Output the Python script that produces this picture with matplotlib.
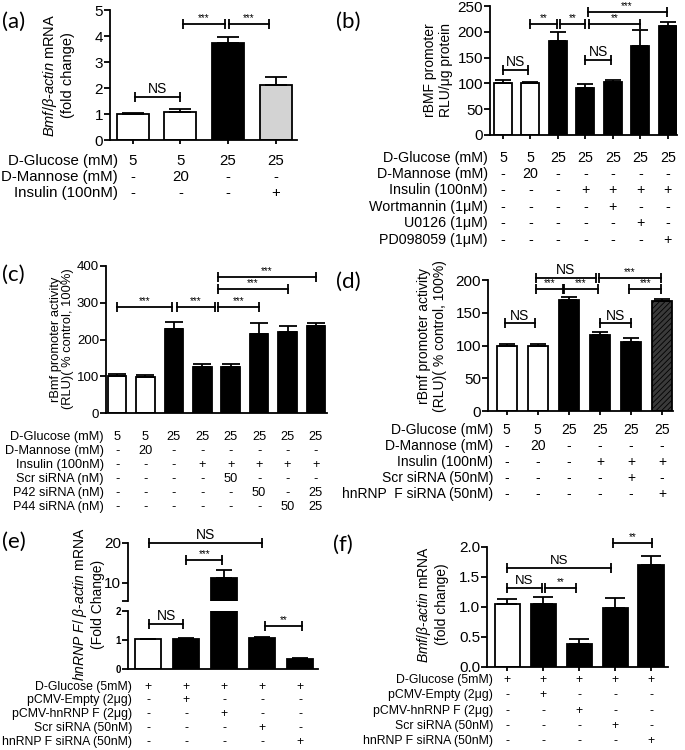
import numpy as np
import matplotlib
matplotlib.use("Agg")
import matplotlib.pyplot as plt
from matplotlib.transforms import blended_transform_factory

plt.rcParams['font.family'] = ['Liberation Sans', 'DejaVu Sans']
plt.rcParams['mathtext.fontset'] = 'custom'
plt.rcParams['mathtext.rm'] = 'Liberation Sans'
plt.rcParams['mathtext.it'] = 'Liberation Sans:italic'
plt.rcParams['hatch.linewidth'] = 0.6

# ---------------- data ----------------
# (a)
a_vals = [1.0, 1.07, 3.75, 2.1]
a_errs = [0.03, 0.12, 0.22, 0.33]
a_colors = ['white', 'white', 'black', '#d3d3d3']
a_rows = ['D-Glucose (mM)', 'D-Mannose (mM)', 'Insulin (100nM)']
a_table = [['5', '5', '25', '25'], ['-', '20', '-', '-'], ['-', '-', '-', '+']]

# (b)
b_vals = [100, 101, 182, 91, 102, 173, 211]
b_errs = [7, 1, 17, 8, 5, 30, 8]
b_colors = ['white', 'white'] + ['black'] * 5
b_rows = ['D-Glucose (mM)', 'D-Mannose (mM)', 'Insulin (100nM)',
          'Wortmannin (1\u03bcM)', 'U0126 (1\u03bcM)', 'PD098059 (1\u03bcM)']
b_table = [['5', '5', '25', '25', '25', '25', '25'],
           ['-', '20', '-', '-', '-', '-', '-'],
           ['-', '-', '-', '+', '+', '+', '+'],
           ['-', '-', '-', '-', '+', '-', '-'],
           ['-', '-', '-', '-', '-', '+', '-'],
           ['-', '-', '-', '-', '-', '-', '+']]

# (c)
c_vals = [100, 99, 228, 126, 126, 215, 221, 237]
c_errs = [6, 5, 20, 8, 8, 30, 17, 7]
c_colors = ['white', 'white'] + ['black'] * 6
c_rows = ['D-Glucose (mM)', 'D-Mannose (mM)', 'Insulin (100nM)',
          'Scr siRNA (nM)', 'P42 siRNA (nM)', 'P44 siRNA (nM)']
c_table = [['5', '5', '25', '25', '25', '25', '25', '25'],
           ['-', '20', '-', '-', '-', '-', '-', '-'],
           ['-', '-', '-', '+', '+', '+', '+', '+'],
           ['-', '-', '-', '-', '50', '-', '-', '-'],
           ['-', '-', '-', '-', '-', '50', '-', '25'],
           ['-', '-', '-', '-', '-', '-', '50', '25']]

# (d)
d_vals = [100, 100, 170, 116, 105, 168]
d_errs = [2, 2, 4, 4, 6, 3]
d_colors = ['white', 'white', 'black', 'black', 'black', '#3a3a3a']
d_rows = ['D-Glucose (mM)', 'D-Mannose (mM)', 'Insulin (100nM)',
          'Scr siRNA (50nM)', 'hnRNP  F siRNA (50nM)']
d_table = [['5', '5', '25', '25', '25', '25'],
           ['-', '20', '-', '-', '-', '-'],
           ['-', '-', '-', '+', '+', '+'],
           ['-', '-', '-', '-', '+', '-'],
           ['-', '-', '-', '-', '-', '+']]

# (e)
e_vals = [1.02, 1.03, 11.2, 1.06, 0.35]
e_errs = [0.03, 0.03, 2.0, 0.03, 0.02]
e_colors = ['white', 'black', 'black', 'black', 'black']
ef_rows = ['D-Glucose (5mM)', 'pCMV-Empty (2\u03bcg)', 'pCMV-hnRNP F (2\u03bcg)',
           'Scr siRNA (50nM)', 'hnRNP F siRNA (50nM)']
ef_table = [['+', '+', '+', '+', '+'],
            ['-', '+', '-', '-', '-'],
            ['-', '-', '+', '-', '-'],
            ['-', '-', '-', '+', '-'],
            ['-', '-', '-', '-', '+']]

# (f)
f_vals = [1.05, 1.05, 0.39, 0.98, 1.70]
f_errs = [0.09, 0.11, 0.07, 0.17, 0.15]
f_colors = ['white', 'black', 'black', 'black', 'black']

# ---------------- helpers ----------------
W, H = 685, 750
fig = plt.figure(figsize=(W / 100, H / 100), dpi=100)
LW = 1.3


def add_ax(x0, ytop, x1, ybot):
    return fig.add_axes([x0 / W, 1 - ybot / H, (x1 - x0) / W, (ybot - ytop) / H])


def style(ax, ytick_fs=11, xticks=True):
    for s in ['top', 'right']:
        ax.spines[s].set_visible(False)
    for s in ['left', 'bottom']:
        ax.spines[s].set_linewidth(LW)
    ax.tick_params(axis='y', direction='out', length=4, width=LW, labelsize=ytick_fs, pad=1)
    ax.tick_params(axis='x', direction='out', length=3 if xticks else 0, width=LW, labelbottom=False)


def bars(ax, vals, errs, colors, width, capsize, hatch_last=False):
    x = np.arange(len(vals))
    bs = ax.bar(x, vals, width=width, color=colors, edgecolor='black', linewidth=LW, zorder=2)
    if hatch_last:
        bs[-1].set_hatch('//////')
    ax.errorbar(x, vals, yerr=[np.zeros(len(vals)), errs], fmt='none', ecolor='black',
                elinewidth=LW, capsize=capsize, capthick=LW, zorder=3)
    ax.set_xticks(x)


def bracket(ax, x1, x2, y, text, fs=7):
    ax.plot([x1, x2], [y, y], color='black', lw=LW, marker='|', markersize=7,
            mew=LW, clip_on=False, zorder=4)
    ax.annotate(text, ((x1 + x2) / 2, y), xytext=(0, 0.5), textcoords='offset points',
                ha='center', va='bottom', fontsize=fs, annotation_clip=False)


def table(ax, rows, table_vals, ys, label_right, fs):
    tr = blended_transform_factory(ax.transData, fig.transFigure)
    for r, yp in zip(range(len(rows)), ys):
        fig.text(label_right / W, 1 - yp / H, rows[r], ha='right', va='center', fontsize=fs)
        for i, v in enumerate(table_vals[r]):
            ax.text(i, 1 - yp / H, v, transform=tr, ha='center', va='center', fontsize=fs)


def ylab(xp, yp, text, fs):
    fig.text(xp / W, 1 - yp / H, text, rotation=90, ha='center', va='center',
             fontsize=fs, multialignment='center', linespacing=1.1)


def letter(xp, yp, text):
    fig.text(xp / W, 1 - yp / H, text, ha='left', va='center', fontsize=16, family='Lato')


# ---------------- (a) ----------------
ax = add_ax(110, 10, 297, 140)
bars(ax, a_vals, a_errs, a_colors, 0.67, 8)
ax.set_ylim(0, 5)
ax.set_yticks([0, 1, 2, 3, 4, 5])
ax.set_xlim(-0.48, 3.45)
style(ax, 11)
bracket(ax, 0.05, 1.0, 1.65, 'NS', 10)
bracket(ax, 1.06, 1.93, 4.46, '***')
bracket(ax, 2.02, 2.86, 4.46, '***')
table(ax, a_rows, a_table, [161, 177, 193], 118, 10.8)
ylab(58, 75, '$\\mathit{Bmf/\\beta}$-$\\mathit{actin}$ mRNA\n(fold change)', 10.5)
letter(2, 22, '(a)')

# ---------------- (b) ----------------
ax = add_ax(490, 6, 677, 135)
bars(ax, b_vals, b_errs, b_colors, 0.65, 6)
ax.set_ylim(0, 250)
ax.set_yticks([0, 50, 100, 150, 200, 250])
ax.set_xlim(-0.47, 6.33)
style(ax, 11)
bracket(ax, 0.0, 0.91, 126, 'NS', 10)
bracket(ax, 0.98, 1.96, 215, '**')
bracket(ax, 2.07, 3.0, 215, '**')
bracket(ax, 3.12, 4.98, 215, '**')
bracket(ax, 3.08, 5.95, 238, '***')
bracket(ax, 3.0, 3.93, 145, 'NS', 10)
table(ax, b_rows, b_table, [158, 174, 190, 207, 223, 240], 488, 10.3)
ylab(438, 70, 'rBMF promoter\nRLU/\u03bcg protein', 10)
letter(336, 22, '(b)')

# ---------------- (c) ----------------
ax = add_ax(106, 266, 327, 413)
bars(ax, c_vals, c_errs, c_colors, 0.66, 6.5)
ax.set_ylim(0, 400)
ax.set_yticks([0, 100, 200, 300, 400])
ax.set_xlim(-0.39, 7.39)
style(ax, 9.5, xticks=False)
bracket(ax, 0.0, 1.95, 288, '***')
bracket(ax, 2.1, 3.45, 288, '***')
bracket(ax, 3.55, 5.0, 288, '***')
bracket(ax, 3.55, 6.0, 337, '***')
bracket(ax, 3.55, 7.0, 370, '***')
table(ax, c_rows, c_table, [437, 451, 465, 479, 493, 507], 104, 9.2)
ylab(62, 339, 'rBmf promoter activity\n(RLU)( % control, 100%)', 9.3)
letter(2, 275, '(c)')

# ---------------- (d) ----------------
ax = add_ax(488, 280, 673, 411)
bars(ax, d_vals, d_errs, d_colors, 0.645, 5.5, hatch_last=True)
ax.set_ylim(0, 200)
ax.set_yticks([0, 50, 100, 150, 200])
ax.set_xlim(-0.6, 5.35)
style(ax, 11)
bracket(ax, -0.05, 0.9, 134, 'NS', 10)
bracket(ax, 3.0, 4.0, 134, 'NS', 10)
bracket(ax, 0.94, 1.8, 186, '***')
bracket(ax, 1.85, 2.94, 186, '***')
bracket(ax, 3.94, 4.97, 186, '***')
bracket(ax, 0.94, 2.87, 203, 'NS', 10)
bracket(ax, 2.97, 4.97, 203, '***')
table(ax, d_rows, d_table, [430, 446, 462, 478, 494], 493, 10)
ylab(432, 336, 'rBmf promoter activity\n(RLU)( % control, 100%)', 10)
letter(336, 282, '(d)')

# ---------------- (e) ----------------
axu = add_ax(128, 543, 318, 601)
axl = add_ax(128, 611, 318, 669)
for a in (axu, axl):
    bars(a, e_vals, e_errs, e_colors, 0.68, 5.5)
    a.set_xlim(-0.53, 4.47)
axu.set_ylim(5.5, 20)
axu.set_yticks([5.5, 10, 20])
axu.set_yticklabels(['', '10', '20'])
axl.set_ylim(0, 2)
axl.set_yticks([0, 1, 2])
style(axu, 11, xticks=False)
axu.spines['bottom'].set_visible(False)
style(axl, 7, xticks=False)
for t in axl.get_yticklabels():
    t.set_fontweight('bold')
bracket(axl, 0.03, 0.92, 1.55, 'NS', 10)
bracket(axl, 3.08, 4.05, 1.48, '**')
bracket(axu, 1.0, 1.95, 15.75, '***')
bracket(axu, 0.03, 3.0, 20, 'NS', 10)
table(axl, ef_rows, ef_table, [687, 700, 714, 728, 742], 132, 8.8)
ylab(88, 604, '$\\mathit{hnRNP\\ F/\\ \\beta}$-$\\mathit{actin}$ mRNA\n(Fold Change)', 10)
letter(2, 542, '(e)')

# ---------------- (f) ----------------
ax = add_ax(487, 547, 668, 667)
bars(ax, f_vals, f_errs, f_colors, 0.7, 7)
ax.set_ylim(0, 2)
ax.set_yticks([0, 0.5, 1.0, 1.5, 2.0])
ax.set_yticklabels(['0.0', '0.5', '1.0', '1.5', '2.0'])
ax.set_xlim(-0.56, 4.47)
style(ax, 11)
bracket(ax, 0.0, 0.97, 1.32, 'NS', 9.5)
bracket(ax, 1.06, 1.92, 1.32, '**')
bracket(ax, 0.0, 2.89, 1.65, 'NS', 9.5)
bracket(ax, 2.94, 4.03, 2.07, '**')
table(ax, ef_rows, ef_table, [680, 695, 711, 726, 741], 493, 8.8)
ylab(432, 604, '$\\mathit{Bmf/\\beta}$-$\\mathit{actin}$ mRNA\n(fold change)', 10)
letter(333, 545, '(f)')

fig.savefig('out.png', dpi=100)
